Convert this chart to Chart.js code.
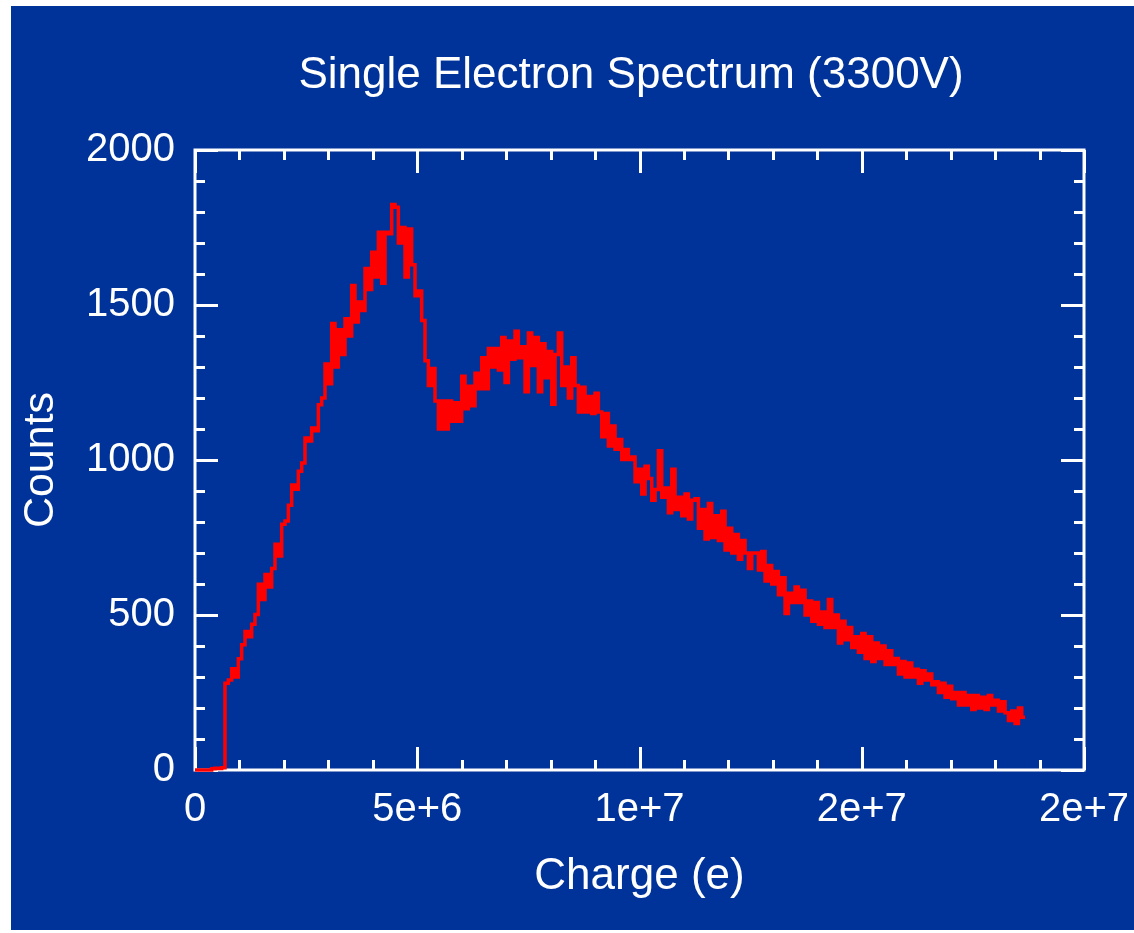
<!DOCTYPE html>
<html>
<head>
<meta charset="utf-8">
<title>Single Electron Spectrum (3300V)</title>
<script src="https://cdn.jsdelivr.net/npm/chart.js@4.4.1/dist/chart.umd.min.js"></script>
<style>
    html, body { margin: 0; padding: 0; background: #ffffff; }
    #wrap { width: 1134px; height: 933px; }
</style>
</head>
<body>
<div id="wrap"><canvas id="spectrum" width="1134" height="933"></canvas></div>
<script>
// histogram: 75000 e per bin, counts per bin starting at 0
const binWidth = 75000;
const counts = [
    0, 0, 0, 0, 0, 4, 6, 5, 7, 280,
    290, 327, 300, 359, 404, 447, 430, 470, 502, 599,
    550, 631, 590, 650, 728, 690, 793, 803, 854, 919,
    906, 964, 990, 1071, 1061, 1103, 1094, 1178, 1200, 1310,
    1246, 1440, 1300, 1420, 1340, 1456, 1400, 1563, 1445, 1510,
    1482, 1618, 1550, 1670, 1590, 1735, 1570, 1735, 1730, 1824,
    1815, 1700, 1750, 1590, 1745, 1630, 1530, 1545, 1450, 1320,
    1240, 1295, 1190, 1100, 1190, 1100, 1190, 1125, 1185, 1125,
    1270, 1165, 1238, 1175, 1280, 1230, 1330, 1230, 1360, 1300,
    1360, 1290, 1395, 1250, 1384, 1325, 1415, 1330, 1365, 1220,
    1410, 1305, 1395, 1220, 1375, 1265, 1350, 1180, 1340, 1410,
    1240, 1300, 1200, 1330, 1240, 1155, 1235, 1155, 1205, 1150,
    1215, 1155, 1075, 1150, 1045, 1110, 1035, 1066, 1002, 1034,
    1002, 1010, 930, 970, 890, 980, 940, 870, 905, 1030,
    880, 910, 830, 970, 840, 880, 820, 890, 810, 870,
    875, 780, 840, 745, 860, 750, 820, 740, 835, 710,
    780, 700, 760, 680, 740, 700, 650, 700, 700, 645,
    705, 610, 660, 600, 640, 565, 620, 505, 570, 540,
    590, 540, 580, 500, 545, 480, 540, 470, 510, 460,
    550, 460, 500, 410, 480, 420, 460, 395, 430, 380,
    440, 360, 430, 350, 410, 360, 400, 340, 385, 340,
    360, 310, 350, 300, 345, 300, 325, 280, 320, 290,
    310, 275, 285, 250, 280, 235, 270, 230, 250, 210,
    250, 210, 240, 195, 240, 200, 235, 195, 240, 210,
    225, 190, 220, 185, 160, 190, 150, 200, 170
];

const xTickValues = [0, 5e6, 1e7, 1.5e7, 2e7];
const xTickLabels = ['0', '5e+6', '1e+7', '2e+7', '2e+7'];
const yTickValues = [0, 500, 1000, 1500, 2000];
const yTickLabels = ['0', '500', '1000', '1500', '2000'];

const chartTitle = 'Single Electron Spectrum (3300V)';
const BLUE = '#003399';
const WHITE = '#ffffff';
const FONT = '"Liberation Sans", Arial, sans-serif';

// left edge of every bin, plus the closing edge of the last one
let points = counts.map((c, i) => ({ x: i * binWidth, y: c }));
points.push({ x: counts.length * binWidth, y: counts[counts.length - 1] });

// background, boxed frame with inward ticks on all four sides, title
const framePlugin = {
    id: 'frame',
    beforeDraw(chart) {
        const c = chart.ctx;
        c.save();
        c.fillStyle = WHITE;
        c.fillRect(0, 0, chart.width, chart.height);
        c.fillStyle = BLUE;
        c.fillRect(11, 6, chart.width - 11, chart.height - 9);
        c.restore();
    },
    beforeDatasetsDraw(chart) {
        const c = chart.ctx;
        const a = chart.chartArea;
        const xs = chart.scales.x, ys = chart.scales.y;
        c.save();
        c.strokeStyle = WHITE;
        c.lineWidth = 3;
        c.strokeRect(a.left, a.top, a.right - a.left, a.bottom - a.top);

        c.beginPath();
        for (let v = 0; v <= xs.max; v += 1e6) {
            const px = Math.round(xs.getPixelForValue(v)) + 0.5;
            const len = (v % 5e6 === 0) ? 23 : 10;
            c.moveTo(px, a.bottom); c.lineTo(px, a.bottom - len);
            c.moveTo(px, a.top); c.lineTo(px, a.top + len);
        }
        for (let v = 0; v <= ys.max; v += 100) {
            const py = Math.round(ys.getPixelForValue(v)) + 0.5;
            const len = (v % 500 === 0) ? 23 : 10;
            c.moveTo(a.left, py); c.lineTo(a.left + len, py);
            c.moveTo(a.right, py); c.lineTo(a.right - len, py);
        }
        c.stroke();
        c.restore();
    },
    afterDraw(chart) {
        const c = chart.ctx;
        c.save();
        c.fillStyle = WHITE;
        c.font = '44px ' + FONT;
        c.textAlign = 'center';
        c.textBaseline = 'alphabetic';
        c.fillText(chartTitle, 631, 88);
        c.restore();
    }
};

const ctx = document.getElementById('spectrum').getContext('2d');
const myChart = new Chart(ctx, {
    type: 'line',
    data: {
        datasets: [{
            data: points,
            borderColor: '#ff0000',
            borderWidth: 3.5,
            pointRadius: 0,
            stepped: true,
            fill: false,
            clip: false
        }]
    },
    options: {
        responsive: false,
        animation: false,
        devicePixelRatio: 1,
        layout: { padding: { left: 0, right: 50, top: 150, bottom: 0 } },
        plugins: {
            legend: { display: false },
            tooltip: { enabled: false },
            title: { display: false }
        },
        scales: {
            x: {
                type: 'linear',
                min: 0, max: 2e7,
                grid: { display: false, drawTicks: false },
                border: { display: false },
                afterBuildTicks: s => { s.ticks = xTickValues.map(v => ({ value: v })); },
                afterFit: s => {
                    s.height = 163;
                    s.paddingLeft = 0;
                    s.paddingRight = 0;
                },
                ticks: {
                    color: WHITE,
                    font: { family: FONT, size: 40 },
                    padding: 16,
                    maxRotation: 0,
                    autoSkip: false,
                    callback: (v, i) => xTickLabels[i]
                },
                title: {
                    display: true,
                    text: 'Charge (e)',
                    color: WHITE,
                    font: { family: FONT, size: 44 },
                    padding: { top: 0, bottom: 30 }
                }
            },
            y: {
                min: 0, max: 2000,
                grid: { display: false, drawTicks: false },
                border: { display: false },
                afterBuildTicks: s => { s.ticks = yTickValues.map(v => ({ value: v })); },
                afterFit: s => { s.width = 195; },
                ticks: {
                    color: WHITE,
                    font: { family: FONT, size: 40 },
                    padding: 20,
                    autoSkip: false,
                    callback: (v, i) => yTickLabels[i]
                },
                title: {
                    display: true,
                    text: 'Counts',
                    color: WHITE,
                    font: { family: FONT, size: 43 },
                    padding: { top: 15, bottom: 0 }
                }
            }
        }
    },
    plugins: [framePlugin]
});
</script>
</body>
</html>
